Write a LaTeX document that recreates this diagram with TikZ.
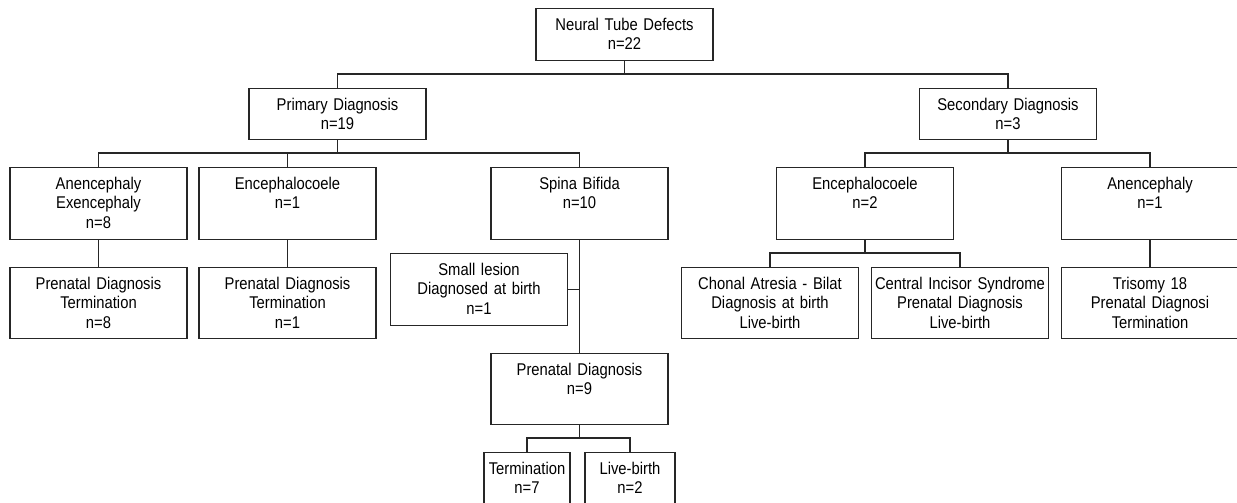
\documentclass[tikz,border=0pt]{standalone}
\usepackage{fontspec}
\setmainfont{Liberation Sans}[FakeStretch=0.87]

\begin{document}
\begin{tikzpicture}[x=1pt, y=-1pt,
  blk/.style={draw=black!85, line width=1.1pt, inner sep=0pt, anchor=north, align=center, text width=177pt, text height=21.5pt, text depth=#1, font=\fontsize{17}{19.7}\selectfont},
  blk/.default=50.5pt,
  ln/.style={draw=black!85, line width=1.1pt}]
\useasboundingbox (0,0) rectangle (1237,503);
% Draw top boxes
\node[blk=30.5pt] (ntd) at (624.5,8) {Neural Tube Defects\\n=22};
\node[blk=29.5pt] (prim) at (337.5,88) {Primary Diagnosis\\n=19};
\node[blk=29.5pt] (sec) at (1008,88) {Secondary Diagnosis\\n=3};
% Draw primary branch
\node[blk] (anen) at (98.5,167) {Anencephaly\\Exencephaly\\n=8};
\node[blk] (enc) at (287.5,167) {Encephalocoele\\n=1};
\node[blk] (spb) at (579.5,167) {Spina Bifida\\n=10};
\node[blk=49.5pt] (anenpd) at (98.5,267) {Prenatal Diagnosis\\Termination\\n=8};
\node[blk=49.5pt] (encpd) at (287.5,267) {Prenatal Diagnosis\\Termination\\n=1};
\node[blk] (lesion) at (479,253) {Small lesion\\Diagnosed at birth\\n=1};
\node[blk=49.5pt] (spbpd) at (579.5,353) {Prenatal Diagnosis\\n=9};
\node[blk=30.5pt, text width=86pt] (term) at (527,452) {Termination\\n=7};
\node[blk=30.5pt, text width=90pt] (live) at (630,452) {Live-birth\\n=2};
% Draw secondary branch
\node[blk] (senc) at (865,167) {Encephalocoele\\n=2};
\node[blk] (sanen) at (1150,167) {Anencephaly\\n=1};
\node[blk=49.5pt] (chon) at (770,267) {Chonal Atresia - Bilat\\Diagnosis at birth\\Live-birth};
\node[blk=49.5pt] (cis) at (960,267) {Central Incisor Syndrome\\Prenatal Diagnosis\\Live-birth};
\node[blk=49.5pt] (tri) at (1150,267) {Trisomy 18\\Prenatal Diagnosi\\Termination};
% Draw connectors
\foreach \a/\b in {anen/anenpd, enc/encpd, spb/spbpd, sanen/tri}
    \draw[ln] (\a) -- (\b);
\foreach \a in {ntd, prim, sec, senc, spbpd}
    \draw[ln] (\a.south) -- ++(0,14);
\draw[ln] (prim.north) -- ++(0,-14) -| (sec.north);
\draw[ln] (anen.north) -- ++(0,-14) -| (spb.north);
\draw[ln] (enc.north) -- ++(0,-14);
\draw[ln] (senc.north) -- ++(0,-14) -| (sanen.north);
\draw[ln] (chon.north) -- ++(0,-14) -| (cis.north);
\draw[ln] (term.north) -- ++(0,-14) -| (live.north);
\draw[ln] (lesion.east) -- (lesion.east -| spb.south);
\end{tikzpicture}
\end{document}
